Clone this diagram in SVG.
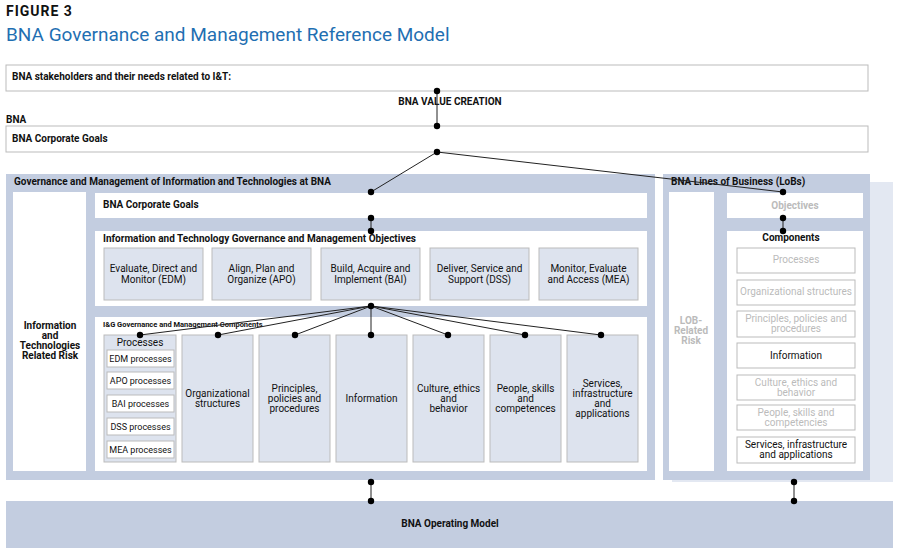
<svg xmlns="http://www.w3.org/2000/svg" width="900" height="550" viewBox="0 0 900 550">
<style>
text{font-family:Roboto,"Liberation Sans",sans-serif;fill:#111}
.b{font-weight:bold;font-size:10px}
.t{font-size:10px}
.c{text-anchor:middle}
.g{fill:#bbb}
.w{fill:#fff;stroke:#bbb;stroke-width:1}
.p{fill:#c3cde0}
.l{fill:#dde3ee;stroke:#bbb;stroke-width:1}
.cn{stroke:#222;stroke-width:1;fill:none}
</style>
<defs><circle id="d" r="3.2" fill="#000"/></defs>
<rect width="900" height="550" fill="#fff"/>
<text x="6" y="16" style="font-weight:bold;font-size:14px;letter-spacing:1px">FIGURE 3</text>
<text x="6" y="41" style="font-size:19px;fill:#1f6fb2">BNA Governance and Management Reference Model</text>

<g id="stakeholders"><rect class="w" x="6" y="65" width="862" height="26"/><text class="b" x="12" y="80">BNA stakeholders and their needs related to I&amp;T:</text></g>
<text class="b c" x="450" y="105">BNA VALUE CREATION</text>
<text class="b" x="6" y="123">BNA</text>
<g id="corpgoals"><rect class="w" x="6" y="126" width="862" height="26"/><text class="b" x="12" y="142">BNA Corporate Goals</text></g>

<g id="gmit">
<rect class="p" x="6" y="174" width="649" height="306"/>
<text class="b" x="14" y="185">Governance and Management of Information and Technologies at BNA</text>
<rect fill="#fff" x="13" y="192" width="73" height="279"/>
<text class="b c" x="50" y="329">Information</text><text class="b c" x="50" y="339">and</text><text class="b c" x="50" y="349">Technologies</text><text class="b c" x="50" y="359">Related Risk</text>
</g>
<g id="gm-goals"><rect fill="#fff" x="95" y="193" width="552" height="25"/><text class="b" x="103" y="208">BNA Corporate Goals</text></g>
<g id="objectives">
<rect fill="#fff" x="95" y="231" width="552" height="75"/>
<text class="b" x="103" y="242">Information and Technology Governance and Management Objectives</text>
<rect class="l" x="104" y="248" width="99" height="52"/><text class="t c" x="153.5" y="272">Evaluate, Direct and</text><text class="t c" x="153.5" y="283">Monitor (EDM)</text>
<rect class="l" x="212" y="248" width="99" height="52"/><text class="t c" x="261.5" y="272">Align, Plan and</text><text class="t c" x="261.5" y="283">Organize (APO)</text>
<rect class="l" x="321" y="248" width="99" height="52"/><text class="t c" x="370.5" y="272">Build, Acquire and</text><text class="t c" x="370.5" y="283">Implement (BAI)</text>
<rect class="l" x="430" y="248" width="99" height="52"/><text class="t c" x="479.5" y="272">Deliver, Service and</text><text class="t c" x="479.5" y="283">Support (DSS)</text>
<rect class="l" x="539" y="248" width="99" height="52"/><text class="t c" x="588.5" y="272">Monitor, Evaluate</text><text class="t c" x="588.5" y="283">and Access (MEA)</text>
</g>
<g id="components">
<rect fill="#fff" x="95" y="317" width="552" height="154"/>
<text x="103" y="327" style="font-size:7.5px;font-weight:bold">I&amp;G Governance and Management Components</text>
<rect class="l" x="104" y="335" width="72" height="127"/><text class="t c" x="140" y="346">Processes</text>
<rect class="w" x="107" y="350" width="67" height="17"/><text class="t c" x="140.5" y="362" style="font-size:9px">EDM processes</text>
<rect class="w" x="107" y="372" width="67" height="17"/><text class="t c" x="140.5" y="384" style="font-size:9px">APO processes</text>
<rect class="w" x="107" y="395" width="67" height="17"/><text class="t c" x="140.5" y="407" style="font-size:9px">BAI processes</text>
<rect class="w" x="107" y="418" width="67" height="17"/><text class="t c" x="140.5" y="430" style="font-size:9px">DSS processes</text>
<rect class="w" x="107" y="441" width="67" height="17"/><text class="t c" x="140.5" y="453" style="font-size:9px">MEA processes</text>
<rect class="l" x="182" y="335" width="71" height="127"/><text class="t c" x="217.5" y="397">Organizational</text><text class="t c" x="217.5" y="407">structures</text>
<rect class="l" x="259" y="335" width="71" height="127"/><text class="t c" x="294.5" y="392">Principles,</text><text class="t c" x="294.5" y="402">policies and</text><text class="t c" x="294.5" y="412">procedures</text>
<rect class="l" x="336" y="335" width="71" height="127"/><text class="t c" x="371.5" y="402">Information</text>
<rect class="l" x="413" y="335" width="71" height="127"/><text class="t c" x="448.5" y="392">Culture, ethics</text><text class="t c" x="448.5" y="402">and</text><text class="t c" x="448.5" y="412">behavior</text>
<rect class="l" x="490" y="335" width="71" height="127"/><text class="t c" x="525.5" y="392">People, skills</text><text class="t c" x="525.5" y="402">and</text><text class="t c" x="525.5" y="412">competences</text>
<rect class="l" x="567" y="335" width="71" height="127"/><text class="t c" x="602.5" y="387">Services,</text><text class="t c" x="602.5" y="397">infrastructure</text><text class="t c" x="602.5" y="407">and</text><text class="t c" x="602.5" y="417">applications</text>
</g>

<g id="lob">
<rect fill="#e3e8f2" x="672" y="182" width="221" height="300"/>
<rect class="p" x="663" y="174" width="207" height="306"/>
<text class="b" x="671" y="185">BNA Lines of Business (LoBs)</text>
<rect fill="#fff" x="669" y="192" width="45" height="279"/>
<text class="b c g" x="691" y="324">LOB-</text><text class="b c g" x="691" y="334">Related</text><text class="b c g" x="691" y="344">Risk</text>
<rect fill="#fff" x="727" y="193" width="136" height="25"/><text class="b c g" x="795" y="209">Objectives</text>
<rect fill="#fff" x="727" y="231" width="136" height="240"/><text class="b c" x="791" y="241">Components</text>
<rect class="w" x="737" y="248" width="118" height="25"/><text class="t c g" x="796" y="263">Processes</text>
<rect class="w" x="737" y="280" width="118" height="25"/><text class="t c g" x="796" y="295">Organizational structures</text>
<rect class="w" x="737" y="311" width="118" height="26"/><text class="t c g" x="796" y="322">Principles, policies and</text><text class="t c g" x="796" y="332">procedures</text>
<rect class="w" x="737" y="343" width="118" height="25"/><text class="t c" x="796" y="359">Information</text>
<rect class="w" x="737" y="375" width="118" height="25"/><text class="t c g" x="796" y="386">Culture, ethics and</text><text class="t c g" x="796" y="396">behavior</text>
<rect class="w" x="737" y="405" width="118" height="25"/><text class="t c g" x="796" y="416">People, skills and</text><text class="t c g" x="796" y="426">competencies</text>
<rect class="w" x="737" y="437" width="118" height="26"/><text class="t c" x="796" y="448">Services, infrastructure</text><text class="t c" x="796" y="458">and applications</text>
</g>

<g id="operating"><rect class="p" x="6" y="501" width="887" height="47"/><text class="b c" x="450" y="527">BNA Operating Model</text></g>

<g id="connectors">
<path class="cn" d="M437 91V126M437 152L371 192M437 152L783 192M371 218V231M783 218V231M371 482V501M794 482V501"/>
<path class="cn" d="M371 306L140 335M371 306L218 335M371 306L295 335M371 306V335M371 306L448 335M371 306L525 335M371 306L601 335"/>
<use href="#d" x="437" y="91"/><use href="#d" x="437" y="126"/><use href="#d" x="437" y="152"/>
<use href="#d" x="371" y="192"/><use href="#d" x="371" y="218"/><use href="#d" x="371" y="231"/><use href="#d" x="371" y="306"/>
<use href="#d" x="783" y="192"/><use href="#d" x="783" y="218"/><use href="#d" x="783" y="231"/>
<use href="#d" x="140" y="335"/><use href="#d" x="218" y="335"/><use href="#d" x="295" y="335"/><use href="#d" x="371" y="335"/><use href="#d" x="448" y="335"/><use href="#d" x="525" y="335"/><use href="#d" x="601" y="335"/>
<use href="#d" x="371" y="482"/><use href="#d" x="371" y="501"/><use href="#d" x="794" y="482"/><use href="#d" x="794" y="501"/>
</g>
</svg>
